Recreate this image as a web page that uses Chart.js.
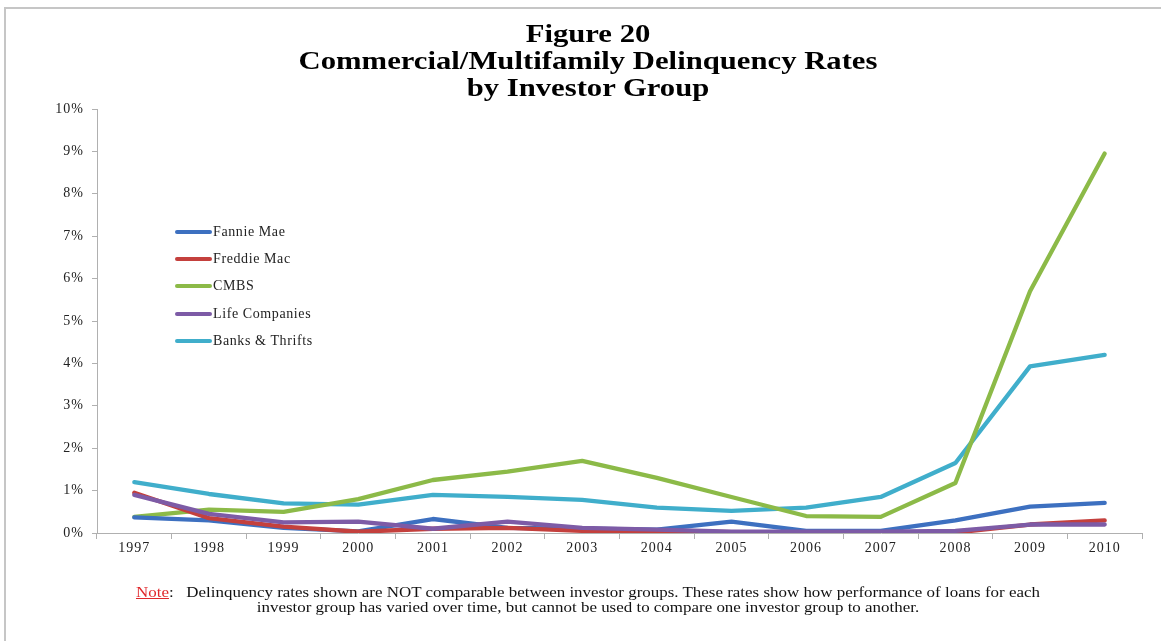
<!DOCTYPE html>
<html>
<head>
<meta charset="utf-8">
<script src="https://cdn.jsdelivr.net/npm/chart.js@4.4.0/dist/chart.umd.min.js"></script>
<style>
  html, body { margin: 0; padding: 0; background: #fff; }
  body { width: 1161px; height: 641px; position: relative; overflow: hidden; font-family: "Liberation Serif", "Times New Roman", serif; }
  #frame { position: absolute; left: 4px; top: 7px; width: 1200px; height: 700px; border-left: 2px solid #c6c6c6; border-top: 2px solid #c6c6c6; }
  #wrap { position: absolute; left: 0; top: 0; width: 1161px; height: 641px; }
  #title { position: absolute; left: 188px; width: 800px; top: 20px; text-align: center; font-weight: bold; font-size: 26px; line-height: 27px; color: #000; transform: scaleX(1.18); transform-origin: 400px 0; }
  #legend { position: absolute; left: 175px; top: 218px; font-size: 14px; letter-spacing: 0.6px; color: #222; }
  #legend .row { height: 27.3px; display: flex; align-items: center; }
  #legend .sw { width: 37px; height: 4px; border-radius: 2px; margin-right: 1px; }
  #note { position: absolute; left: 188px; width: 800px; top: 585px; text-align: center; font-size: 14px; line-height: 15px; color: #111; transform: scaleX(1.21); transform-origin: 400px 0; }
  #note .n { color: #e0272b; text-decoration: underline; }
</style>
</head>
<body>
<div id="frame"></div>
<div id="wrap"><canvas id="c" width="1161" height="641"></canvas></div>
<div id="title">Figure 20<br>Commercial/Multifamily Delinquency Rates<br>by Investor Group</div>
<div id="legend"></div>
<div id="note"><span class="n">Note</span>:&nbsp;&nbsp; Delinquency rates shown are NOT comparable between investor groups. These rates show how performance of loans for each<br>investor group has varied over time, but cannot be used to compare one investor group to another.</div>
<script>
const years = ["1997","1998","1999","2000","2001","2002","2003","2004","2005","2006","2007","2008","2009","2010"];
const seriesNames = ["Fannie Mae", "Freddie Mac", "CMBS", "Life Companies", "Banks & Thrifts"];
const fannieMae = [0.37, 0.30, 0.12, 0.04, 0.33, 0.12, 0.10, 0.08, 0.27, 0.05, 0.05, 0.30, 0.62, 0.71];
const freddieMac = [0.95, 0.35, 0.15, 0.03, 0.10, 0.12, 0.05, 0.05, 0.02, 0.02, 0.02, 0.01, 0.20, 0.30];
const cmbs = [0.38, 0.55, 0.50, 0.80, 1.25, 1.45, 1.70, 1.30, 0.85, 0.40, 0.38, 1.18, 5.70, 8.95];
const lifeCompanies = [0.90, 0.45, 0.25, 0.27, 0.10, 0.27, 0.12, 0.08, 0.03, 0.03, 0.03, 0.05, 0.20, 0.20];
const banksThrifts = [1.20, 0.92, 0.70, 0.67, 0.90, 0.85, 0.78, 0.60, 0.52, 0.60, 0.85, 1.65, 3.93, 4.20];
const yTickValues = [0,1,2,3,4,5,6,7,8,9,10];

const colors = ["#3d70c0", "#c4403d", "#8cba48", "#7d5ba6", "#40aecb"];
const values = [fannieMae, freddieMac, cmbs, lifeCompanies, banksThrifts];

const legend = document.getElementById('legend');
seriesNames.forEach((n, i) => {
  const r = document.createElement('div'); r.className = 'row';
  const s = document.createElement('div'); s.className = 'sw'; s.style.background = colors[i];
  const t = document.createElement('span'); t.textContent = n;
  r.appendChild(s); r.appendChild(t); legend.appendChild(r);
});

const datasets = seriesNames.map((n, i) => ({
  label: n, data: values[i], borderColor: colors[i], backgroundColor: colors[i],
  borderWidth: 4.3, pointRadius: 0, tension: 0, fill: false,
  borderCapStyle: 'round', borderJoinStyle: 'round'
}));
datasets.forEach((d, i) => d.order = [3, 2, 4, 1, 5][i]);

const spacing = {
  id: 'spacing',
  beforeDraw(chart) { try { chart.ctx.letterSpacing = '1px'; } catch (e) {} }
};

new Chart(document.getElementById('c'), {
  type: 'line',
  data: { labels: years, datasets },
  plugins: [spacing],
  options: {
    responsive: false, animation: false,
    layout: { padding: { left: 0, right: 19, top: 109, bottom: 78 } },
    plugins: { legend: { display: false }, title: { display: false }, tooltip: { enabled: false } },
    scales: {
      x: {
        offset: true,
        grid: { offset: true, drawOnChartArea: false, drawTicks: true, tickLength: 6, color: '#b0b0b0' },
        border: { display: true, color: '#b0b0b0', width: 1 },
        ticks: { color: '#222', font: { family: 'Liberation Serif', size: 14 }, padding: 1, maxRotation: 0, autoSkip: false },
        afterFit: s => { s.height = 30; }
      },
      y: {
        min: 0, max: 10,
        afterBuildTicks: s => { s.ticks = yTickValues.map(v => ({ value: v })); },
        grid: { drawOnChartArea: false, drawTicks: true, tickLength: 5, color: '#b0b0b0' },
        border: { display: true, color: '#b0b0b0', width: 1 },
        ticks: { color: '#222', font: { family: 'Liberation Serif', size: 14 }, padding: 8, callback: v => v + '%' },
        afterFit: s => { s.width = 97; }
      }
    }
  }
});
</script>
</body>
</html>
